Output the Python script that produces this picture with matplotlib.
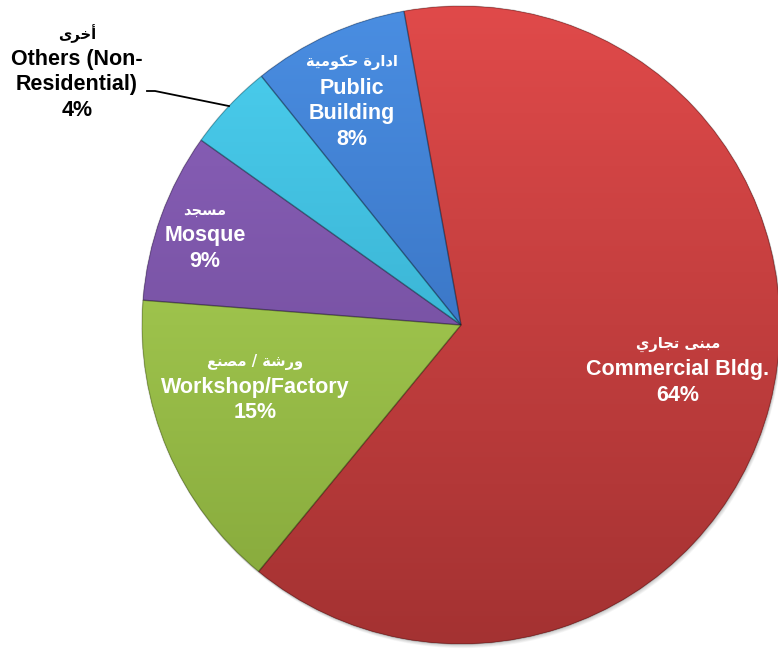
import numpy as np
import matplotlib.pyplot as plt
from matplotlib.patches import Wedge, Circle
from matplotlib.colors import LinearSegmentedColormap

# data (clockwise from the top)
labels_en = ["Commercial Bldg.", "Workshop/Factory", "Mosque", "Others (Non-\nResidential)", "Public\nBuilding"]
labels_ar = ["مبنى تجاري", "ورشة / مصنع", "مسجد", "أخرى", "ادارة حكومية"]
shares = [63.8, 15.3, 8.6, 4.4, 7.9]

# top / bottom colours of the gradient for each slice
top_colors = ["#e04a4a", "#b4dc5c", "#8c62bc", "#4cd0f0", "#4a8ee2"]
bottom_colors = ["#a43232", "#84a63a", "#684690", "#2c9cbc", "#2e62ae"]

# label centres in pixels (x, y from top)
label_pos = [(678, 370), (255, 387), (205, 236), (77, 72), (352, 101)]

# simple arabic shaping (matplotlib has none)
FORMS = {
    'ا': ('\uFE8D', '\uFE8E', None, None), 'أ': ('\uFE83', '\uFE84', None, None),
    'ب': ('\uFE8F', '\uFE90', '\uFE91', '\uFE92'), 'ة': ('\uFE93', '\uFE94', None, None),
    'ت': ('\uFE95', '\uFE96', '\uFE97', '\uFE98'), 'ج': ('\uFE9D', '\uFE9E', '\uFE9F', '\uFEA0'),
    'ح': ('\uFEA1', '\uFEA2', '\uFEA3', '\uFEA4'), 'خ': ('\uFEA5', '\uFEA6', '\uFEA7', '\uFEA8'),
    'د': ('\uFEA9', '\uFEAA', None, None), 'ر': ('\uFEAD', '\uFEAE', None, None),
    'س': ('\uFEB1', '\uFEB2', '\uFEB3', '\uFEB4'), 'ش': ('\uFEB5', '\uFEB6', '\uFEB7', '\uFEB8'),
    'ص': ('\uFEB9', '\uFEBA', '\uFEBB', '\uFEBC'), 'ع': ('\uFEC9', '\uFECA', '\uFECB', '\uFECC'),
    'ك': ('\uFED9', '\uFEDA', '\uFEDB', '\uFEDC'), 'م': ('\uFEE1', '\uFEE2', '\uFEE3', '\uFEE4'),
    'ن': ('\uFEE5', '\uFEE6', '\uFEE7', '\uFEE8'), 'و': ('\uFEED', '\uFEEE', None, None),
    'ى': ('\uFEEF', '\uFEF0', '\uFBE8', '\uFBE9'), 'ي': ('\uFEF1', '\uFEF2', '\uFEF3', '\uFEF4'),
}


def shape_arabic(s):
    out = []
    for i, ch in enumerate(s):
        if ch not in FORMS:
            out.append(ch)
            continue
        prev = s[i - 1] if i > 0 else ''
        nxt = s[i + 1] if i + 1 < len(s) else ''
        join_prev = prev in FORMS and FORMS[prev][2] is not None
        join_next = nxt in FORMS and FORMS[ch][2] is not None
        iso, fin, ini, med = FORMS[ch]
        if join_prev and join_next:
            out.append(med)
        elif join_prev:
            out.append(fin)
        elif join_next:
            out.append(ini)
        else:
            out.append(iso)
    return ''.join(out)[::-1]


W, H = 778, 654
fig = plt.figure(figsize=(W / 100, H / 100), dpi=100)
ax = fig.add_axes([0, 0, 1, 1])

cx, cy, r = 461, H - 325, 319

# soft shadow under the pie
for k in range(8):
    ax.add_patch(Circle((cx + 0.3 * k, cy - 0.6 * k), r, color='black', alpha=0.03, lw=0, zorder=0))

wedges, _ = ax.pie(shares, colors=bottom_colors, startangle=100.3, counterclock=False,
                   center=(cx, cy), radius=r, frame=True, wedgeprops=dict(linewidth=0))
ax.set_xlim(0, W)
ax.set_ylim(0, H)
ax.set_aspect('equal')
ax.axis('off')

grad = np.linspace(0, 1, 256).reshape(-1, 1)
for w, ct, cb in zip(wedges, top_colors, bottom_colors):
    cmap = LinearSegmentedColormap.from_list('g', [cb, ct])
    im = ax.imshow(grad, extent=(cx - r, cx + r, cy - r, cy + r), origin='lower',
                   cmap=cmap, aspect='auto', zorder=1.5, interpolation='bilinear')
    im.set_clip_path(w)
    w.set_zorder(1)
    # thin darker rim
    ax.add_patch(Wedge(w.center, w.r, w.theta1, w.theta2, fill=False,
                       ec='#00000038', lw=1.0, zorder=1.6))

en_font = dict(family=['Liberation Sans', 'DejaVu Sans'], weight='bold')
ar_font = dict(family=['DejaVu Sans'], weight='bold')

for i, (en, ar, pct) in enumerate(zip(labels_en, labels_ar, shares)):
    x, y = label_pos[i]
    col = 'black' if i == 3 else 'white'
    lines = en.split('\n') + [f"{round(pct):.0f}%"]
    n = len(lines) + 1
    y0 = y - (n - 1) * 25.5 / 2
    ax.text(x, H - y0, shape_arabic(ar), ha='center', va='center', fontsize=10.5,
            color=col, zorder=3, **ar_font)
    for j, ln in enumerate(lines):
        ax.text(x, H - (y0 + (j + 1) * 25.5), ln, ha='center', va='center', fontsize=15.5,
                color=col, zorder=3, **en_font)

# leader line for the small slice
w = wedges[3]
mid = np.deg2rad((w.theta1 + w.theta2) / 2)
ex, ey = cx + r * np.cos(mid), cy + r * np.sin(mid)
ax.plot([147, 155, ex], [H - 91, H - 91, ey], color='black', lw=1.3, zorder=3)

plt.savefig('out.png', dpi=100)
